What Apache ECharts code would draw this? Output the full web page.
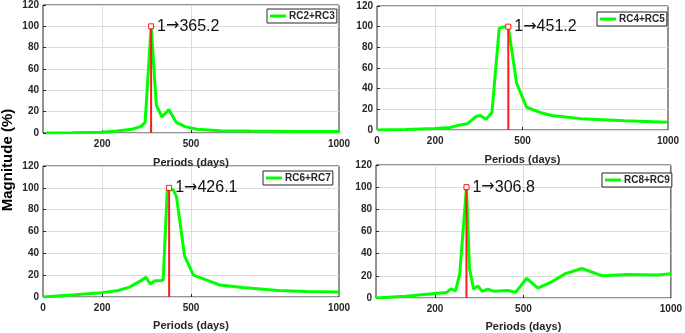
<!DOCTYPE html>
<html>
<head>
<meta charset="utf-8">
<script src="https://cdn.jsdelivr.net/npm/echarts@6/dist/echarts.min.js"></script>
<style>
  html, body { margin: 0; padding: 0; background: #fff; }
  #chart { width: 685px; height: 333px; }
</style>
</head>
<body>
<div id="chart"></div>
<script>
// 各面板数据 [周期(天), 幅值(%)]
const names = ['RC2+RC3', 'RC4+RC5', 'RC6+RC7', 'RC8+RC9'];
const peaks = [365.2, 451.2, 426.1, 306.8];

const rc23 = [[10, 0], [100, 0.3], [200, 0.8], [250, 1.8], [300, 3.5], [330, 6], [345, 10], [365.2, 100],
  [383, 26], [402, 15], [425, 22], [450, 10], [480, 6], [520, 3.5], [600, 2.2], [700, 1.8], [850, 1.5], [1000, 1.5]];
const rc45 = [[0, 0], [100, 0.5], [200, 1.5], [250, 2.5], [280, 4.5], [310, 6], [340, 13], [355, 14], [375, 10.5],
  [395, 17], [420, 98.5], [440, 100], [451.2, 100], [480, 45], [514, 22], [560, 17], [600, 14], [700, 11],
  [850, 9], [1000, 7.5]];
const rc67 = [[0, 0], [107, 2], [200, 4], [254, 6], [292, 9], [331, 15], [348, 18], [362, 12], [378, 15],
  [398, 15], [406, 15.5], [420, 99], [426.1, 100], [440, 98], [451, 92], [478, 38], [508, 20], [558, 15],
  [597, 11], [674, 8.6], [794, 6], [890, 5], [1000, 4.6]];
const rc89 = [[0, 0], [100, 1.5], [200, 4], [240, 5], [254, 8.3], [270, 6.5], [284, 22], [306.8, 100],
  [317, 26.6], [331, 8], [345, 11], [360, 6], [379, 8], [401, 6], [446, 6.8], [474, 5.3], [511, 17.8],
  [549, 9], [592, 14], [642, 22], [698, 26.6], [768, 20], [854, 21.3], [955, 20.7], [1000, 22]];
const seriesData = [rc23, rc45, rc67, rc89];

// 刻度
const xLabelTicks = [[200, 500, 1000], [0, 200, 500, 1000], [0, 200, 500, 1000], [200, 500, 1000]];
const xGridTicks = [200, 500];

const font = 'Liberation Sans, Arial, sans-serif';
const grids = [
  {left: 43, top: 4, width: 296, height: 129},
  {left: 377, top: 6, width: 291, height: 124},
  {left: 43, top: 166, width: 296, height: 131},
  {left: 376, top: 165, width: 297, height: 135}
];
const legendPos = [[267, 9], [597, 12], [263, 171], [602, 173]];

let option = {
  animation: false,
  backgroundColor: '#fff',
  textStyle: {fontFamily: font},
  grid: grids.map(g => Object.assign({show: true, borderColor: '#262626', borderWidth: 1, containLabel: false}, g)),
  xAxis: grids.map((g, i) => ({
    type: 'value',
    gridIndex: i,
    min: 0,
    max: 1000,
    name: 'Periods (days)',
    nameLocation: 'middle',
    nameGap: i >= 2 ? 23 : 24,
    nameTextStyle: {fontWeight: 'bold', fontSize: 11, color: '#262626', fontFamily: font},
    axisLine: {show: false},
    axisTick: {show: true, inside: true, length: 3, customValues: xGridTicks, lineStyle: {color: '#262626'}},
    axisLabel: {
      customValues: xLabelTicks[i], fontWeight: 'bold', fontSize: 10, color: '#262626', margin: 6,
      fontFamily: font, formatter: v => String(v)
    },
    splitLine: {show: true, lineStyle: {color: '#dcdcdc', width: 1}}
  })),
  yAxis: grids.map((g, i) => ({
    type: 'value',
    gridIndex: i,
    min: 0,
    max: 120,
    interval: 20,
    axisLine: {show: false},
    axisTick: {show: true, inside: true, length: 3, lineStyle: {color: '#262626'}},
    axisLabel: {fontWeight: 'bold', fontSize: 10, color: '#262626', margin: 4, fontFamily: font},
    splitLine: {show: true, lineStyle: {color: '#dcdcdc', width: 1}}
  })),
  legend: names.map((n, i) => ({
    data: [{name: n, icon: 'rect'}],
    left: legendPos[i][0],
    top: legendPos[i][1],
    orient: 'horizontal',
    itemWidth: 16,
    itemHeight: 3,
    itemGap: 0,
    padding: [2, 2, 2, 3],
    borderColor: '#262626',
    borderWidth: 1,
    backgroundColor: '#fff',
    selectedMode: false,
    textStyle: {fontWeight: 'bold', fontSize: 10, color: '#262626', fontFamily: font, padding: [0, 0, 0, -2]}
  })),
  graphic: [{
    type: 'text',
    x: 8,
    y: 160,
    rotation: Math.PI / 2,
    style: {
      text: 'Magnitude (%)', fontSize: 15, fontWeight: 'bold', fill: '#000', fontFamily: font,
      align: 'center', verticalAlign: 'middle'
    }
  }],
  series: []
};

names.forEach((n, i) => {
  option.series.push({
    name: n,
    type: 'line',
    xAxisIndex: i,
    yAxisIndex: i,
    data: seriesData[i],
    showSymbol: false,
    symbol: 'none',
    color: '#00ff00',
    lineStyle: {color: '#00ff00', width: 3},
    z: 3
  });
  // 峰值标记
  option.series.push({
    name: 'peak' + i,
    type: 'line',
    xAxisIndex: i,
    yAxisIndex: i,
    data: [
      {value: [peaks[i], 0], symbol: 'none'},
      {
        value: [peaks[i], 100],
        symbol: 'rect',
        symbolSize: 5,
        label: {
          show: true,
          position: 'right',
          distance: 3,
          formatter: p => '1{a|\u2192}' + p.value[0],
          fontSize: 16,
          color: '#111',
          fontFamily: font,
          rich: {a: {fontSize: 16, fontFamily: 'DejaVu Sans', color: '#111'}}
        }
      }
    ],
    showAllSymbol: true,
    lineStyle: {color: '#ff1a1a', width: 2},
    itemStyle: {color: '#fff', borderColor: '#ff1a1a', borderWidth: 1},
    z: 4
  });
});

const chart = echarts.init(document.getElementById('chart'));
chart.setOption(option);
</script>
</body>
</html>
